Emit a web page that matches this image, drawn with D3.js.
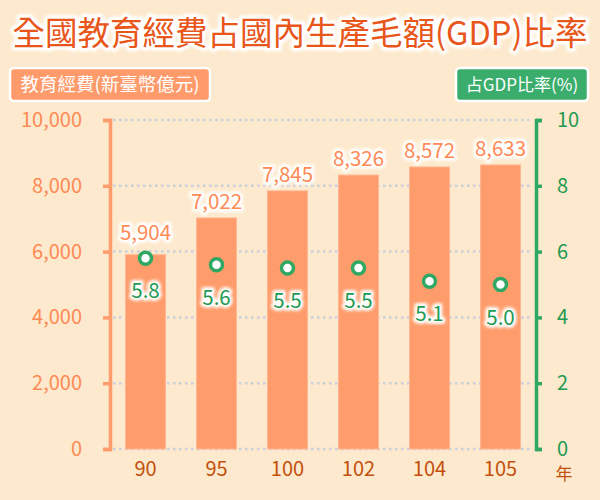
<!DOCTYPE html>
<html>
<head>
<meta charset="utf-8">
<script src="https://cdn.jsdelivr.net/npm/d3@7"></script>
<style>
  body { margin: 0; background: #fde9cd; }
  svg { display: block; font-family: "Noto Sans CJK TC", "Noto Sans", sans-serif; }
</style>
</head>
<body>
<div id="chart"></div>
<script>
// data
const years = ['90', '95', '100', '102', '104', '105'];
const funding = [5904, 7022, 7845, 8326, 8572, 8633];   // 億元
const gdpRatio = [5.8, 5.6, 5.5, 5.5, 5.1, 5.0];        // %
const leftTicks = [0, 2000, 4000, 6000, 8000, 10000];
const rightTicks = [0, 2, 4, 6, 8, 10];

const width = 600, height = 500;
const margin = { top: 120, right: 64, bottom: 51, left: 110 };

const orange = '#ff9c6b';
const orangeText = '#ff8a55';
const green = '#2fa863';
const greenText = '#1f9a52';

const svg = d3.select('#chart').append('svg')
  .attr('width', width)
  .attr('height', height);

// soft white glow used behind text
const defs = svg.append('defs');
const glow = defs.append('filter').attr('id', 'glow')
  .attr('x', '-20%').attr('y', '-40%').attr('width', '140%').attr('height', '180%');
glow.append('feGaussianBlur').attr('stdDeviation', 1.6);

svg.append('rect')
  .attr('width', width).attr('height', height)
  .attr('fill', '#fde9cd');

function haloText(g, x, y, str, opts) {
  const sel = g.append('g');
  [true, false].forEach(isHalo => {
    const t = sel.append('text')
      .attr('x', x).attr('y', y)
      .attr('text-anchor', opts.anchor || 'middle')
      .attr('font-size', opts.size)
      .attr('fill', isHalo ? '#fff' : opts.color)
      .text(str);
    if (isHalo) {
      t.attr('stroke', '#fff')
        .attr('stroke-width', opts.halo || 5)
        .attr('stroke-linejoin', 'round')
        .attr('filter', 'url(#glow)');
    }
  });
  return sel;
}

// title
haloText(svg, width / 2, 45, '全國教育經費占國內生產毛額(GDP)比率',
  { size: 32.5, color: '#e8561a', halo: 7 });

// scales
const x = d3.scaleBand()
  .domain(years)
  .range([margin.left, width - margin.right])
  .paddingInner(0.44)
  .paddingOuter(0.22);

const yL = d3.scaleLinear()
  .domain([0, 10000])
  .range([height - margin.bottom, margin.top]);

const yR = d3.scaleLinear()
  .domain([0, 10])
  .range([height - margin.bottom, margin.top]);

// gridlines
svg.append('g')
  .selectAll('line')
  .data(leftTicks)
  .join('line')
    .attr('x1', margin.left + 3)
    .attr('x2', width - margin.right - 3)
    .attr('y1', d => yL(d))
    .attr('y2', d => yL(d))
    .attr('stroke', '#c9cfdb')
    .attr('stroke-width', 2.5)
    .attr('stroke-dasharray', '2.5,3.5');

// bars
svg.append('g')
  .selectAll('rect')
  .data(funding)
  .join('rect')
    .attr('x', (d, i) => x(years[i]))
    .attr('y', d => yL(d))
    .attr('width', x.bandwidth())
    .attr('height', d => yL(0) - yL(d))
    .attr('fill', orange)
    .attr('stroke', '#ffb48e')
    .attr('stroke-width', 1);

// left axis
const axisL = svg.append('g')
  .attr('transform', `translate(${margin.left},0)`)
  .call(d3.axisLeft(yL)
    .tickValues(leftTicks)
    .tickSize(7)
    .tickSizeOuter(7)
    .tickPadding(21)
    .tickFormat(d3.format(',')));
axisL.selectAll('path, line').attr('stroke', orange).attr('stroke-width', 3.5);
axisL.selectAll('text')
  .attr('fill', orangeText)
  .attr('font-size', 20)
  .attr('font-family', '"Noto Sans CJK TC", sans-serif');

// right axis
const axisR = svg.append('g')
  .attr('transform', `translate(${width - margin.right},0)`)
  .call(d3.axisRight(yR)
    .tickValues(rightTicks)
    .tickSize(6)
    .tickSizeOuter(6)
    .tickPadding(15));
axisR.selectAll('path, line').attr('stroke', green).attr('stroke-width', 3.5);
axisR.selectAll('text')
  .attr('fill', greenText)
  .attr('font-size', 20)
  .attr('font-family', '"Noto Sans CJK TC", sans-serif');

// category labels
const catG = svg.append('g');
years.forEach(yr => {
  catG.append('text')
    .attr('x', x(yr) + x.bandwidth() / 2)
    .attr('y', height - margin.bottom + 27)
    .attr('text-anchor', 'middle')
    .attr('font-size', 20)
    .attr('fill', '#c2500c')
    .text(yr);
});
catG.append('text')
  .attr('x', 564)
  .attr('y', height - margin.bottom + 31)
  .attr('text-anchor', 'middle')
  .attr('font-size', 17)
  .attr('fill', '#c2500c')
  .text('年');

// bar value labels (pushed up when the ratio marker sits right on the bar top)
const valG = svg.append('g');
funding.forEach((d, i) => {
  const ly = Math.min(yL(d) - 9, yR(gdpRatio[i]) - 18);
  haloText(valG, x(years[i]) + x.bandwidth() / 2, ly,
    d3.format(',')(d), { size: 20.5, color: orangeText, halo: 6 });
});

// ratio markers
const ptG = svg.append('g');
gdpRatio.forEach((d, i) => {
  const cx = x(years[i]) + x.bandwidth() / 2;
  ptG.append('circle')
    .attr('cx', cx)
    .attr('cy', yR(d))
    .attr('r', 6)
    .attr('fill', '#fff')
    .attr('stroke', green)
    .attr('stroke-width', 3.5);
  haloText(ptG, cx, yR(d) + 40, d3.format('.1f')(d),
    { size: 20.5, color: greenText, halo: 6 });
});

// axis caption boxes
function captionBox(bx, by, bw, bh, fill, str, size) {
  const g = svg.append('g');
  g.append('rect')
    .attr('x', bx).attr('y', by)
    .attr('width', bw).attr('height', bh)
    .attr('rx', 4)
    .attr('fill', fill)
    .attr('stroke', '#fff')
    .attr('stroke-width', 2.5);
  g.append('text')
    .attr('x', bx + bw / 2)
    .attr('y', by + bh / 2 + 6.5)
    .attr('text-anchor', 'middle')
    .attr('font-size', size)
    .attr('fill', '#fff')
    .text(str);
}
captionBox(10, 68, 200, 33, '#ff9a6a', '教育經費(新臺幣億元)', 18.5);
captionBox(456, 68, 132, 33, '#3aad6c', '占GDP比率(%)', 17);
</script>
</body>
</html>
